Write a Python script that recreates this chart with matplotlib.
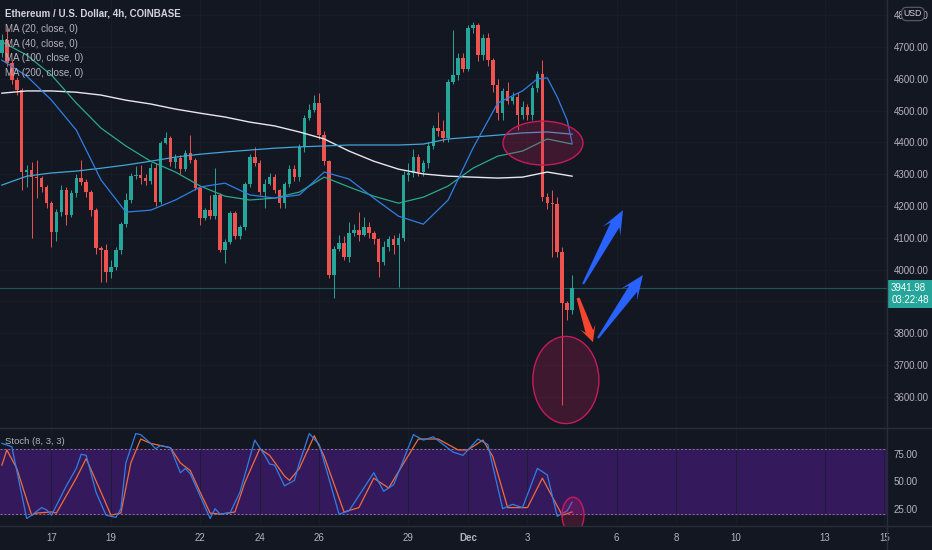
import numpy as np
import matplotlib
matplotlib.use('Agg')
import matplotlib.pyplot as plt
from matplotlib.patches import Ellipse, Polygon
from matplotlib.lines import Line2D
from matplotlib.transforms import IdentityTransform

plt.rcParams['font.family'] = ['Liberation Sans', 'DejaVu Sans']

BG = '#131722'
GREEN = '#26a69a'
RED = '#ef5350'
TXT = '#b2b5be'

# ETH/USD 4h candles, first bar Nov 15 08:00 (x axis in days, Dec 1 = 31)
first_open = 4681
closes = [4722, 4650, 4596, 4565, 4307, 4313, 4291, 4288, 4260, 4209,
          4118, 4181, 4250, 4172, 4241, 4288, 4275, 4244, 4187, 4068,
          4062, 3992, 4008, 4062, 4143, 4219, 4294, 4297, 4288, 4279,
          4319, 4213, 4398, 4414, 4338, 4351, 4316, 4367, 4345, 4257,
          4162, 4187, 4168, 4235, 4062, 4087, 4178, 4106, 4134, 4269,
          4354, 4335, 4244, 4269, 4291, 4250, 4209, 4269, 4316, 4291,
          4386, 4477, 4502, 4524, 4423, 4341, 3983, 4065, 4084, 4040,
          4115, 4124, 4109, 4134, 4115, 4096, 4024, 4071, 4096, 4077,
          4099, 4297, 4304, 4354, 4307, 4335, 4389, 4445, 4436, 4414,
          4590, 4612, 4665, 4631, 4760, 4769, 4675, 4728, 4659, 4580,
          4492, 4562, 4530, 4543, 4486, 4511, 4486, 4571, 4615, 4228,
          4209, 4206, 4055, 3895, 3873, 3941.98]
highs = [4740, 4760, 4660, 4605, 4570, 4330, 4340, 4345, 4295, 4265,
         4215, 4190, 4265, 4260, 4250, 4300, 4345, 4285, 4250, 4195,
         4075, 4080, 4030, 4070, 4150, 4240, 4305, 4325, 4329, 4300,
         4335, 4335, 4405, 4433, 4420, 4365, 4360, 4375, 4423, 4350,
         4260, 4195, 4235, 4319, 4240, 4095, 4185, 4185, 4140, 4275,
         4365, 4386, 4345, 4285, 4305, 4300, 4255, 4275, 4330, 4330,
         4395, 4485, 4520, 4549, 4555, 4435, 4345, 4075, 4110, 4105,
         4150, 4145, 4181, 4165, 4150, 4120, 4100, 4090, 4105, 4110,
         4115, 4310, 4335, 4380, 4365, 4345, 4400, 4455, 4496, 4470,
         4600, 4753, 4680, 4680, 4770, 4779, 4775, 4740, 4745, 4665,
         4600, 4570, 4590, 4560, 4560, 4530, 4520, 4580, 4625, 4659,
         4240, 4250, 4230, 4070, 3900, 3982]
lows = [4670, 4640, 4585, 4550, 4250, 4260, 4100, 4225, 4245, 4195,
        4070, 4090, 4170, 4140, 4165, 4230, 4265, 4230, 4170, 4050,
        3961, 3961, 3973, 4000, 4050, 4135, 4210, 4285, 4270, 4265,
        4270, 4200, 4205, 4395, 4325, 4320, 4300, 4310, 4335, 4250,
        4140, 4155, 4160, 4160, 4055, 4021, 4080, 4095, 4095, 4125,
        4260, 4325, 4235, 4195, 4265, 4240, 4194, 4195, 4260, 4280,
        4280, 4370, 4470, 4495, 4410, 4330, 3975, 3911, 4060, 4030,
        4025, 4105, 4090, 4105, 4100, 4080, 3977, 4015, 4060, 4050,
        3945, 4090, 4280, 4290, 4295, 4295, 4320, 4380, 4420, 4400,
        4400, 4585, 4595, 4620, 4625, 4745, 4655, 4660, 4640, 4560,
        4470, 4470, 4520, 4520, 4440, 4475, 4470, 4470, 4560, 4215,
        4190, 4040, 4040, 3574, 3841, 3860]

# moving averages every 5 bars (MA20 denser at the end)
ma_bars = list(range(0, 116, 5))
ma20_bars = list(range(0, 106, 5)) + [108, 110, 112, 114, 115]
ma20 = [4659, 4609, 4533, 4439, 4282, 4181, 4187, 4219, 4260, 4272, 4235, 4225,
        4235, 4307, 4285, 4225, 4168, 4143, 4219, 4382, 4524, 4562,
        4600, 4603, 4543, 4470, 4398]
ma40 = [4716, 4675, 4612, 4524, 4445, 4389, 4341, 4307, 4263, 4231, 4219, 4225,
        4244, 4291, 4260, 4231, 4209, 4228, 4263, 4319, 4357, 4373, 4411, 4395]
ma100 = [4266, 4294, 4304, 4310, 4319, 4329, 4341, 4354, 4363, 4370, 4376, 4382,
         4386, 4389, 4392, 4392, 4392, 4395, 4411, 4417, 4423, 4430, 4433, 4426]
ma200 = [4555, 4562, 4562, 4558, 4549, 4533, 4521, 4505, 4492, 4480, 4464, 4452,
         4433, 4411, 4373, 4341, 4316, 4301, 4294, 4291, 4288, 4291, 4307, 4294]

# stochastic (8, 3, 3)
k_bars = [0, 2, 5, 6, 8, 9, 10, 13, 15, 16, 17, 19, 21, 23, 24, 25, 27, 28, 30, 31,
          32, 34, 36, 37, 38, 42, 43, 44, 46, 48, 51, 53, 54, 55, 57, 59, 60, 62, 64,
          68, 70, 75, 77, 79, 83, 85, 87, 91, 93, 96, 98, 101, 103, 105, 108, 110,
          112, 114, 115]
k_vals = [85, 82, 16, 19, 26, 24, 19, 46, 62, 75, 74, 40, 19, 17, 25, 67, 94, 93, 85, 80,
          83, 81, 58, 62, 57, 16, 25, 20, 21, 40, 88, 74, 66, 65, 46, 51, 67, 94, 84,
          20, 23, 58, 41, 47, 93, 88, 91, 77, 74, 89, 84, 25, 29, 26, 62, 56,
          18, 23, 31]
d_bars = [0, 1, 3, 6, 7, 10, 11, 15, 17, 20, 22, 24, 26, 28, 30, 34, 36, 38, 40, 42,
          44, 47, 49, 52, 54, 57, 58, 60, 63, 65, 69, 72, 75, 78, 84, 88, 92, 94, 97,
          99, 102, 106, 109, 113, 115]
d_vals = [65, 79, 62, 19, 21, 22, 21, 53, 71, 40, 19, 21, 67, 89, 85, 81, 67, 60, 40, 21,
          20, 22, 49, 80, 74, 55, 51, 62, 92, 73, 22, 26, 53, 44, 89, 89, 79, 79, 88,
          73, 26, 26, 53, 19, 22]

date_ticks = [17, 19, 22, 24, 26, 29, 31, 33, 36, 38, 40, 43, 45]
date_labels = ['17', '19', '22', '24', '26', '29', 'Dec', '3', '6', '8', '10', '13', '15']
price_ticks = list(range(3600, 4801, 100))
last_price = 3941.98


def bar_time(i):
    return 15 + 8 / 24 + np.asarray(i) / 6


fig = plt.figure(figsize=(9.32, 5.5), dpi=100, facecolor=BG)
W, H = 932, 550
ax = fig.add_axes([0, 1 - 428 / H, 887 / W, 428 / H], facecolor=BG)
ax2 = fig.add_axes([0, 1 - 526 / H, 887 / W, 97 / H], facecolor=BG)

xlim = (15.27, 45.085)

# ---- candles
n = len(closes)
t = bar_time(np.arange(n))
c = np.array(closes, dtype=float)
o = np.array([first_open] + closes[:-1], dtype=float)
cols = np.where(c >= o, GREEN, RED)
ax.vlines(t, lows, highs, colors=cols, lw=0.7, zorder=3)
ax.bar(t, np.maximum(np.abs(c - o), 3), bottom=np.minimum(o, c), width=0.118,
       color=cols, zorder=3)

ax.plot(bar_time(ma_bars), ma200, color='#e6e8ee', lw=1.0, zorder=4)
ax.plot(bar_time(ma_bars), ma100, color='#42a5d8', lw=0.9, zorder=4)
ax.plot(bar_time(ma_bars), ma40, color='#2aa88f', lw=0.9, zorder=4)
ax.plot(bar_time(ma20_bars), ma20, color='#2f7fe6', lw=0.9, zorder=4)

ax.axhline(last_price, color=GREEN, lw=0.8, alpha=0.45, zorder=2)

ax.set_xlim(*xlim)
ax.set_ylim(3502, 4848)
ax.set_yticks(price_ticks)
ax.set_yticklabels(['' if p == 3900 else '%.2f' % p for p in price_ticks])
ax.yaxis.tick_right()
ax.set_xticks(date_ticks)
ax.tick_params(axis='y', length=0, pad=5, labelsize=7, labelcolor=TXT)
ax.tick_params(axis='x', length=0, labelbottom=False)
ax.grid(True, color='#1a1e29', lw=0.6)
for s in ax.spines.values():
    s.set_visible(False)

# annotations on the price panel
ELL_FC = (0.85, 0.11, 0.38, 0.22)
ax.add_patch(Ellipse((33.52, 4398), 2.69, 138, fc=ELL_FC, ec='#c81a5a', lw=1.0, zorder=5))
ax.add_patch(Ellipse((34.29, 3653), 2.22, 274, fc=ELL_FC, ec='#c81a5a', lw=1.0, zorder=5))


def arrow(axis, tail, tip, head_len, head_w, neck_w, tail_w, color):
    a = axis.transData.transform(tail)
    b = axis.transData.transform(tip)
    d = b - a
    u = d / np.hypot(*d)
    nv = np.array([-u[1], u[0]])
    neck = b - u * head_len * 0.7
    barb = b - u * head_len
    pts = [a + nv * tail_w, neck + nv * neck_w, barb + nv * head_w, b,
           barb - nv * head_w, neck - nv * neck_w, a - nv * tail_w]
    axis.add_patch(Polygon(pts, closed=True, transform=IdentityTransform(),
                           fc=color, ec='none', zorder=6, clip_on=False))


arrow(ax, (34.87, 3955), (36.21, 4187), 24, 10, 5, 1, '#2962ff')
arrow(ax, (35.37, 3785), (36.88, 3983), 24, 10, 5, 1, '#2962ff')
arrow(ax, (34.70, 3911), (35.20, 3772), 16, 8, 4, 1.5, '#f4452f')

ax.annotate('%.2f\n03:22:48' % last_price, xy=(1, last_price),
            xycoords=('axes fraction', 'data'), xytext=(3.0, -4.3),
            textcoords='offset points', ha='left', va='center', color='white',
            fontsize=7, linespacing=1.25, annotation_clip=False, zorder=7,
            bbox=dict(boxstyle='square,pad=0.3', fc=GREEN, ec='none'))

# ---- stochastic panel
ax2.axhspan(20, 80, color='#341a5c', zorder=1)
for lvl in (20, 80):
    ax2.axhline(lvl, color='#857b93', lw=0.7, ls=(0, (2, 2)), zorder=2)
ax2.plot(bar_time(d_bars), d_vals, color='#f26b3a', lw=0.9, zorder=3)
ax2.plot(bar_time(k_bars), k_vals, color='#2f7fe6', lw=0.9, zorder=4)
ax2.add_patch(Ellipse((34.53, 19), 0.74, 33, fc=ELL_FC, ec='#c81a5a', lw=1.0, zorder=5))
ax2.set_xlim(*xlim)
ax2.set_ylim(9.1, 98.2)
ax2.set_yticks([25, 50, 75])
ax2.set_yticklabels(['25.00', '50.00', '75.00'])
ax2.yaxis.tick_right()
ax2.set_xticks(date_ticks)
ax2.set_xticklabels(date_labels)
for lab in ax2.get_xticklabels():
    if lab.get_text() == 'Dec':
        lab.set_fontweight('bold')
ax2.tick_params(axis='y', length=0, pad=5, labelsize=7, labelcolor=TXT)
ax2.tick_params(axis='x', length=0, pad=5, labelsize=7, labelcolor=TXT)
ax2.grid(True, axis='x', color='#1a1e29', lw=0.6)
for s in ax2.spines.values():
    s.set_visible(False)

# separators
sep = '#2a2e39'
fig.add_artist(Line2D([887 / W, 887 / W], [0, 1], color=sep, lw=1))
fig.add_artist(Line2D([0, 1], [1 - 428 / H, 1 - 428 / H], color=sep, lw=1))
fig.add_artist(Line2D([0, 1], [1 - 526 / H, 1 - 526 / H], color=sep, lw=1))

# legend texts
fig.text(5 / W, 1 - 14 / H, 'Ethereum / U.S. Dollar, 4h, COINBASE', color='#d1d4dc',
         fontsize=7, va='center', fontweight='bold')
for k, lbl in enumerate(['MA (20, close, 0)', 'MA (40, close, 0)',
                         'MA (100, close, 0)', 'MA (200, close, 0)']):
    fig.text(5 / W, 1 - (29 + 14.6 * k) / H, lbl, color=TXT, fontsize=7, va='center')
fig.text(5 / W, 1 - 442 / H, 'Stoch (8, 3, 3)', color=TXT, fontsize=6.8, va='center')
fig.text(913 / W, 1 - 14 / H, 'USD', color='#d1d4dc', fontsize=6.3, ha='center',
         va='center', bbox=dict(boxstyle='round,pad=0.25,rounding_size=0.6',
                                fc=BG, ec='#5d606b', lw=0.8))

fig.savefig('out.png', dpi=100, facecolor=BG)
